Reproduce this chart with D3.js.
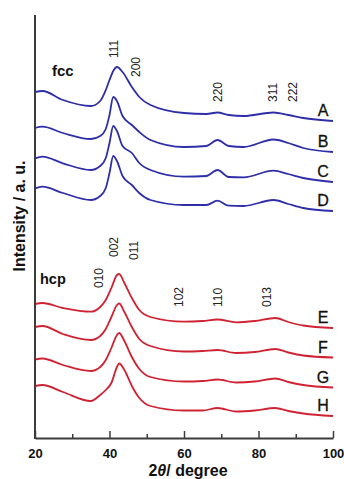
<!DOCTYPE html>
<html><head><meta charset="utf-8">
<script src="https://cdn.jsdelivr.net/npm/d3@7"></script>
<style>
html,body{margin:0;padding:0;background:#fff;}
svg{display:block;font-family:"Liberation Sans",Arial,sans-serif;}
</style></head>
<body><svg id="chart" width="344" height="479"></svg>
<script>
// ---- data ----
const fccTheta = [20,22,27.5,35,37.5,39,40,41,42,43.5,46,48,51,60,66,69,72,76,84,88,92,100];
const seriesA = [346,347,338,332,337,348,358,367,371,366,351,341,333,325,324,325.5,323,322,325.5,323,320,317];
const seriesB = [310,311.3,305,299,302,309,323,341,337,322,313,306,298,291,292,298,292,291,298.5,295,290,286];
const seriesC = [279.7,281.3,274.7,268,272,280,295,312,307,292,285,275,268,261.3,262,268,261,260.7,267.3,264,260,256];
const seriesD = [249.7,251.3,245,238,242,250,265,282,277,262,253,245,238,233,233,237.3,232.3,232,238,234,230,227];

const hcpTheta = [20,22,27.5,35,37.5,39,40.5,42,42.6,44,46,48,51,60,65,69,74,79,84.5,88,92,100];
const seriesE = [134,135,130,126.3,131,138,150,163,164,155,140,128,121,116.3,117,118.5,115.7,117,120,116,112.5,110];
const seriesF = [111,112,104,98,102,109,121,133,134.5,126,111,99,92,86.5,87,88,85,86,89,85.5,82.5,80.5];
const seriesG = [78.5,79.5,73,67,71,78,90,103,105,97,81,69,61,56.5,57,58.5,55.5,56.5,59.5,56,53,50.5];
const seriesH = [52,53,46,37,43,48,55,71,74.5,68,52,40,32,27.5,27.5,30,26.5,27.5,30,27,24.5,22];

const fccNames = ["A","B","C","D"];
const hcpNames = ["E","F","G","H"];

const fccPeakLabels = ["111","200","220","311","222"];
const fccPeakTheta  = [41.2,47.1,69,83.9,89.1];
const fccPeakLevel  = [380,361,336,336,336];
const hcpPeakLabels = ["010","002","011","102","110","013"];
const hcpPeakTheta  = [37.2,41.2,46.6,58.7,69,82.1];
const hcpPeakLevel  = [150,181,178,131,131,131];

const xMajorTicks = [20,40,60,80,100];
const xMinorTicks = [30,50,70,90];

// ---- layout ----
const svg = d3.select("#chart");
const mLeft = 35, mRight = 333, mTop = 15, mBottom = 438;
const x = d3.scaleLinear().domain([20,100]).range([mLeft,mRight]);
const y = d3.scaleLinear().domain([0,423]).range([mBottom,mTop]);

const blue = "#2e2ea8", red = "#cf2333", axisCol = "#3c3c3c";

const line = d3.line().x(d=>x(d[0])).y(d=>y(d[1])).curve(d3.curveMonotoneX);

function drawGroup(theta, list, names, color){
  list.forEach((vals,i)=>{
    const pts = theta.map((t,j)=>[t, vals[j]]);
    svg.append("path").attr("d", line(pts))
      .attr("fill","none").attr("stroke",color).attr("stroke-width",1.8)
      .attr("stroke-linejoin","round");
    svg.append("text").attr("x", 323).attr("y", y(vals[vals.length-1]) - 5)
      .attr("text-anchor","middle").attr("font-size",16).attr("fill","#111")
      .attr("stroke","#111").attr("stroke-width",0.3)
      .text(names[i]);
  });
}
drawGroup(fccTheta, [seriesA,seriesB,seriesC,seriesD], fccNames, blue);
drawGroup(hcpTheta, [seriesE,seriesF,seriesG,seriesH], hcpNames, red);

function peakLabels(labels, thetas, levels){
  labels.forEach((t,i)=>{
    const px = x(thetas[i]) + 4.3, py = y(levels[i]);
    svg.append("text").attr("transform",`translate(${px},${py}) rotate(-90)`)
      .attr("font-size",12).attr("fill","#222").text(t);
  });
}
peakLabels(fccPeakLabels, fccPeakTheta, fccPeakLevel);
peakLabels(hcpPeakLabels, hcpPeakTheta, hcpPeakLevel);

svg.append("text").attr("x",52).attr("y",76).attr("font-size",15)
  .attr("font-weight","bold").attr("fill","#111").text("fcc");
svg.append("text").attr("x",40).attr("y",284).attr("font-size",14.5)
  .attr("font-weight","bold").attr("fill","#111").text("hcp");

// ---- axes ----
const gx = svg.append("g").attr("transform",`translate(0,${mBottom})`);
gx.call(d3.axisBottom(x).tickValues(xMajorTicks).tickSizeInner(-7).tickSizeOuter(0).tickPadding(10.5));
const gm = svg.append("g").attr("transform",`translate(0,${mBottom})`);
gm.call(d3.axisBottom(x).tickValues(xMinorTicks).tickSizeInner(-4).tickSizeOuter(0).tickFormat(""));
gm.select(".domain").remove();
svg.selectAll(".tick line").attr("stroke",axisCol).attr("stroke-width",1.5);
gx.select(".domain").attr("stroke",axisCol).attr("stroke-width",2);
gx.selectAll(".tick text").attr("font-size",13).attr("font-weight","bold")
  .attr("fill","#111").attr("font-family","Liberation Sans, Arial, sans-serif");

svg.append("line").attr("x1",mLeft).attr("x2",mLeft).attr("y1",mTop).attr("y2",mBottom+1)
  .attr("stroke",axisCol).attr("stroke-width",2);

const xt = svg.append("text").attr("x",188).attr("y",476).attr("text-anchor","middle")
  .attr("font-size",16).attr("font-weight","bold").attr("fill","#111");
xt.append("tspan").text("2");
xt.append("tspan").attr("font-style","italic").text("θ");
xt.append("tspan").text("/ degree");

svg.append("text").attr("transform",`translate(25,216) rotate(-90)`)
  .attr("text-anchor","middle").attr("font-size",16).attr("font-weight","bold")
  .attr("fill","#111").text("Intensity / a. u.");
</script></body></html>
